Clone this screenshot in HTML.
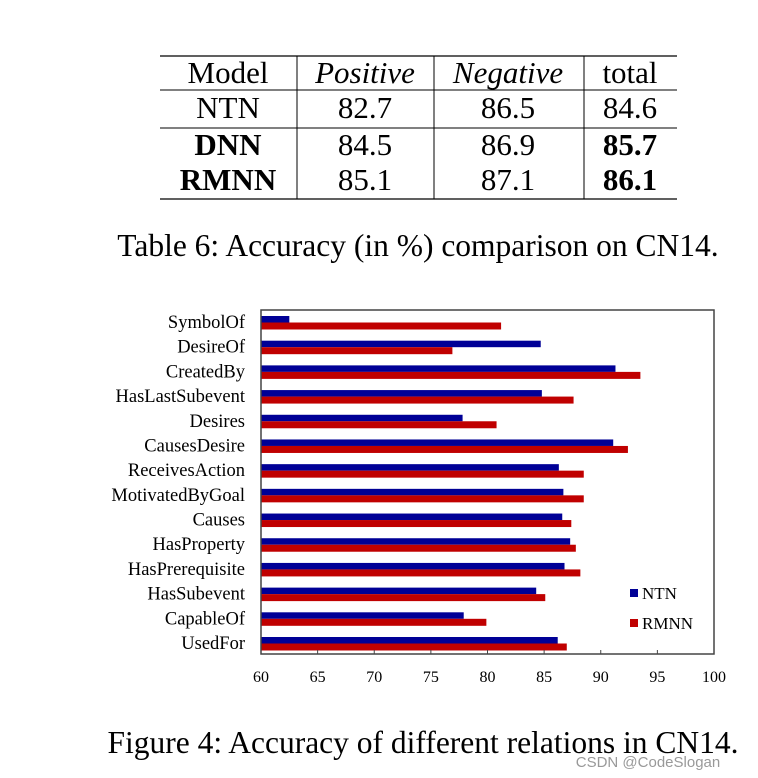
<!DOCTYPE html>
<html><head><meta charset="utf-8"><style>
body{margin:0;background:#fff;width:758px;height:778px;overflow:hidden;position:relative;font-family:"Liberation Serif",serif;}
</style></head><body>
<svg width="758" height="778" style="position:absolute;left:0;top:0">
<g font-family="Liberation Serif, serif" font-size="31" text-anchor="middle">
<line x1="160" y1="56" x2="677" y2="56" stroke="#000" stroke-width="1.2"/>
<line x1="160" y1="90" x2="677" y2="90" stroke="#000" stroke-width="1"/>
<line x1="160" y1="128" x2="677" y2="128" stroke="#000" stroke-width="1"/>
<line x1="160" y1="199" x2="677" y2="199" stroke="#000" stroke-width="1.2"/>
<line x1="297" y1="56" x2="297" y2="199" stroke="#000" stroke-width="1"/>
<line x1="434" y1="56" x2="434" y2="199" stroke="#000" stroke-width="1"/>
<line x1="584" y1="56" x2="584" y2="199" stroke="#000" stroke-width="1"/>
<text x="228" y="83">Model</text><text x="365" y="83" font-style="italic">Positive</text><text x="508" y="83" font-style="italic">Negative</text><text x="630" y="83">total</text>
<text x="228" y="118">NTN</text><text x="365" y="118">82.7</text><text x="508" y="118">86.5</text><text x="630" y="118">84.6</text>
<text x="228" y="155" font-weight="bold">DNN</text><text x="365" y="155">84.5</text><text x="508" y="155">86.9</text><text x="630" y="155" font-weight="bold">85.7</text>
<text x="228" y="190" font-weight="bold">RMNN</text><text x="365" y="190">85.1</text><text x="508" y="190">87.1</text><text x="630" y="190" font-weight="bold">86.1</text>
</g>
<text x="418" y="256" font-size="31.5" text-anchor="middle" font-family="Liberation Serif, serif">Table 6: Accuracy (in %) comparison on CN14.</text>
<g id="chart"></g>
<text x="423" y="753" font-size="31.5" text-anchor="middle" font-family="Liberation Serif, serif">Figure 4: Accuracy of different relations in CN14.</text>
<text x="648" y="767" font-size="15" text-anchor="middle" fill="#999" font-family="Liberation Sans, sans-serif">CSDN @CodeSlogan</text>
</svg>
<script>
const categories=["SymbolOf","DesireOf","CreatedBy","HasLastSubevent","Desires","CausesDesire","ReceivesAction","MotivatedByGoal","Causes","HasProperty","HasPrerequisite","HasSubevent","CapableOf","UsedFor"];
const ntnValues=[62.5,84.7,91.3,84.8,77.8,91.1,86.3,86.7,86.6,87.3,86.8,84.3,77.9,86.2];
const rmnnValues=[81.2,76.9,93.5,87.6,80.8,92.4,88.5,88.5,87.4,87.8,88.2,85.1,79.9,87.0];
const xTicks=[60,65,70,75,80,85,90,95,100];
const NS="http://www.w3.org/2000/svg";
const g=document.getElementById('chart');
const L=261,R=714,T=310,B=654;
const xScale=v=>L+(v-60)/(100-60)*(R-L);
const step=(637-316)/(categories.length-1);
const yScale=i=>316+i*step;
function mk(tag,attrs){const e=document.createElementNS(NS,tag);for(const k in attrs)e.setAttribute(k,attrs[k]);g.appendChild(e);return e;}
categories.forEach((c,i)=>{
 const y=yScale(i);
 let b=mk('rect',{x:L,y:y,width:xScale(ntnValues[i])-L,height:6.5,fill:'#000096'});
 
 
 let r=mk('rect',{x:L,y:y+6.5,width:xScale(rmnnValues[i])-L,height:7,fill:'#c00000'});
 
 
 let t=mk('text',{x:245,y:y+12,'font-size':'18.5','text-anchor':'end','font-family':'Liberation Serif, serif'});
 t.textContent=c;
 
 
});
let fr=mk('rect',{x:L,y:T,width:R-L,height:B-T,fill:'none',stroke:'#444','stroke-width':1.5});


xTicks.forEach(v=>{
 const x=xScale(v);
 let tk=mk('line',{x1:x,y1:B,x2:x,y2:B-4,stroke:'#444','stroke-width':1});
 
 
 let t=mk('text',{x:x,y:682,'font-size':'16','text-anchor':'middle','font-family':'Liberation Serif, serif'});
 t.textContent=v;
 
 
});
[['NTN','#000096',589],['RMNN','#c00000',619]].forEach(([n,c,y])=>{
 let s=mk('rect',{x:630,y:y,width:8,height:8,fill:c});
 
 
 let t=mk('text',{x:642,y:y+10,'font-size':'17','font-family':'Liberation Serif, serif'});
 t.textContent=n;
 
 
});
</script>
</body></html>
